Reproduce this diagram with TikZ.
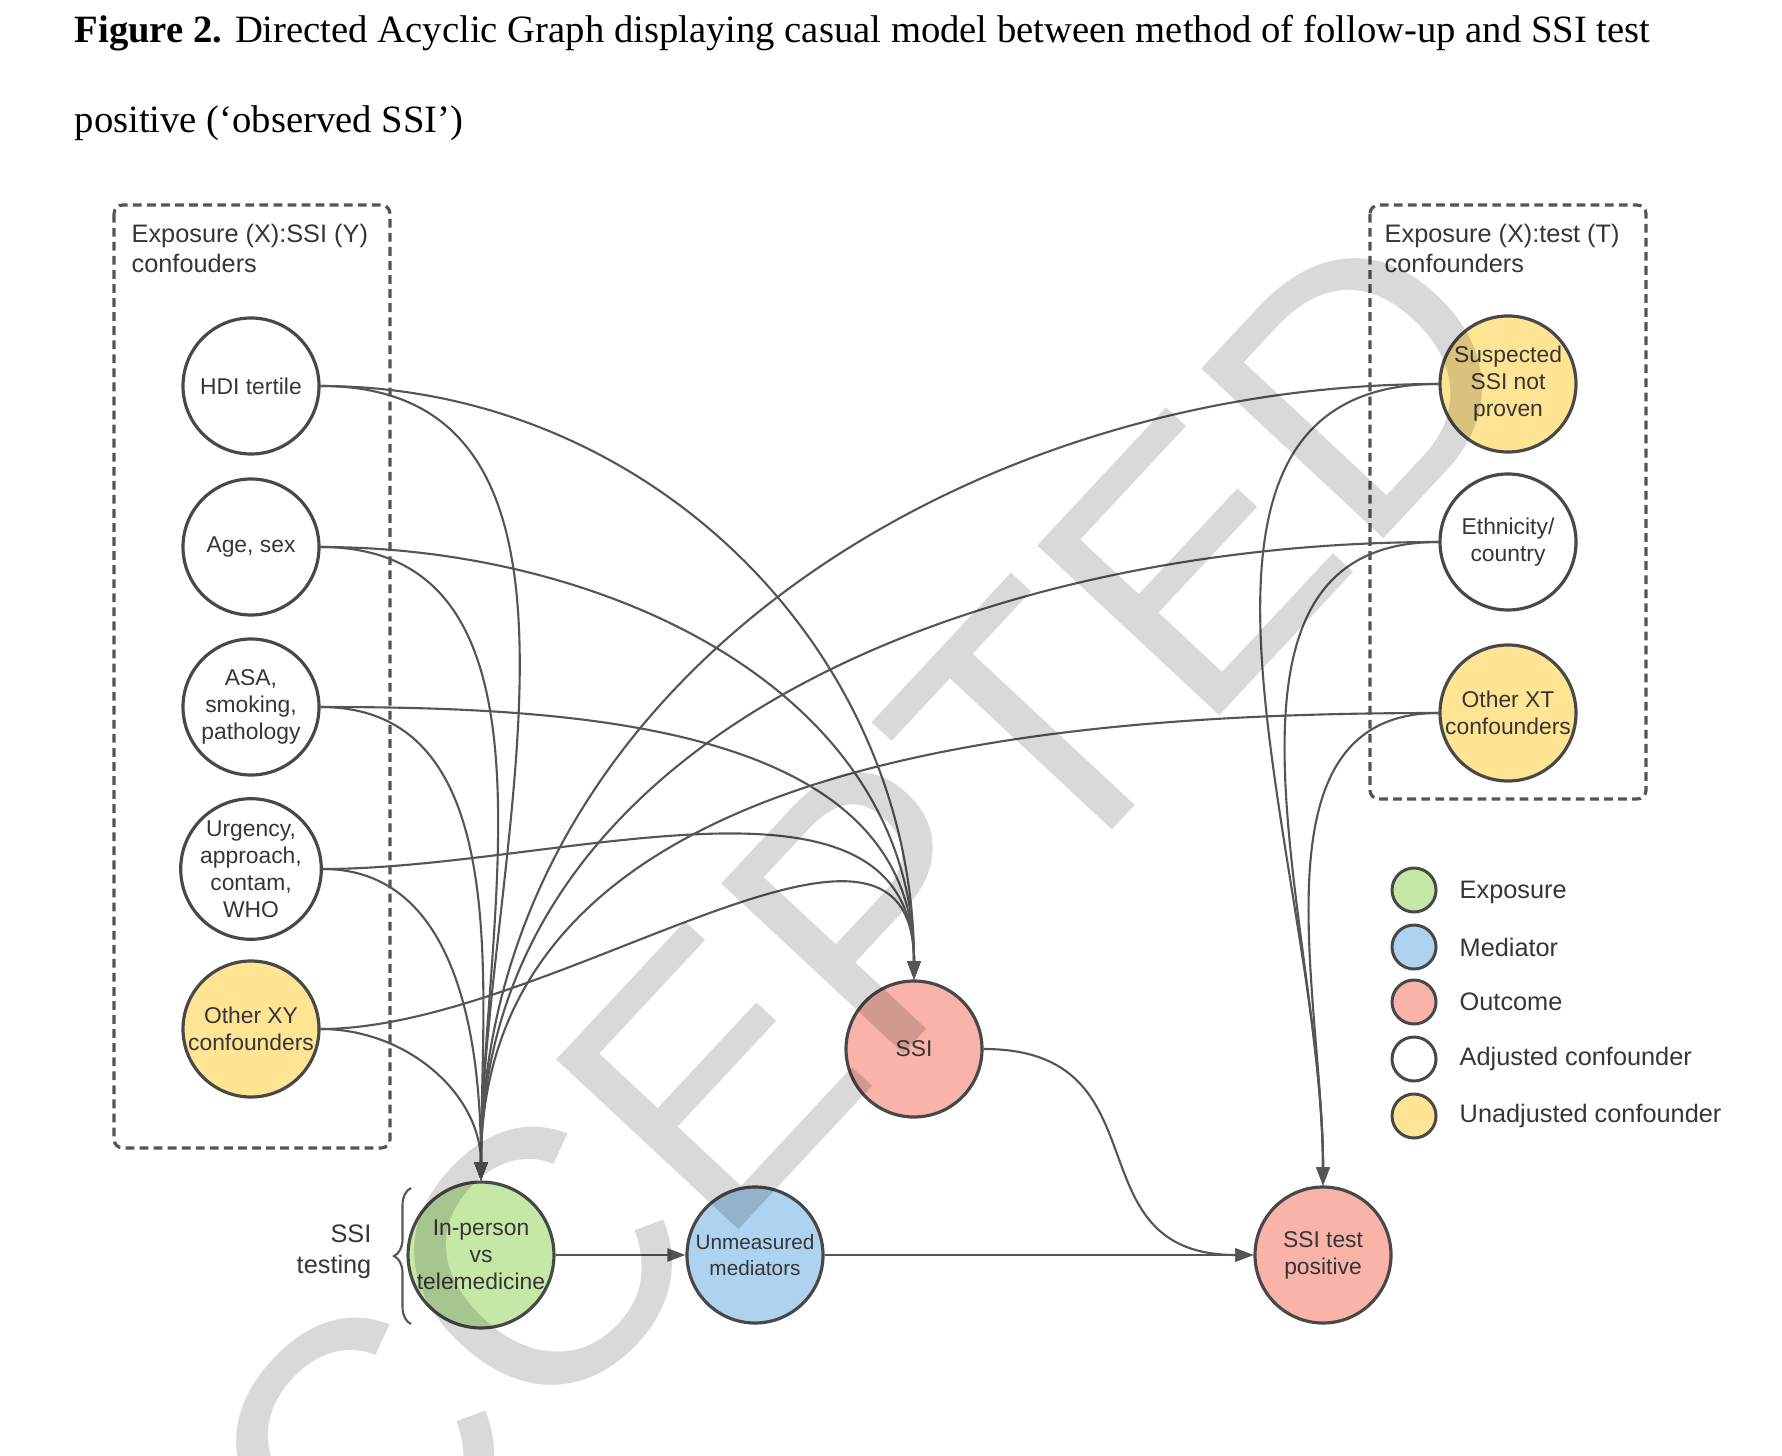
\documentclass[tikz,border=0pt]{standalone}
\usepackage{fontspec}
\setmainfont{Liberation Serif}
\newfontfamily\lucid{Liberation Sans}
\usepackage{xcolor}
\usepackage{tikz}
\usetikzlibrary{positioning,arrows.meta,decorations.pathreplacing}
\definecolor{edge}{HTML}{555555}
\definecolor{rim}{HTML}{484848}
\definecolor{txt}{HTML}{363636}
\definecolor{expo}{HTML}{C5E8A7}
\definecolor{medi}{HTML}{ADD3F0}
\definecolor{outc}{HTML}{F9B3A9}
\definecolor{unadj}{HTML}{FFE494}

\begin{document}
\begin{tikzpicture}[
  >={Triangle[length=1.8mm,width=1.3mm]},
  var/.style={circle,draw=rim,line width=0.9pt,minimum size=1.36cm,inner sep=0pt,
              align=center,text=txt,font=\lucid\fontsize{6.5}{7.7}\selectfont},
  adj/.style={var,fill=white},
  unadj/.style={var,fill=unadj},
  expo/.style={var,fill=expo},
  medi/.style={var,fill=medi},
  outc/.style={var,fill=outc},
  edge/.style={draw=edge,line width=0.6pt,->},
  grp/.style={draw=edge,line width=0.9pt,dash pattern=on 2.5pt off 1.5pt,rounded corners=2.5pt},
  gl/.style={text=txt,font=\lucid\fontsize{7.2}{8.7}\selectfont,align=left,inner sep=0pt},
  key/.style={circle,draw=rim,line width=0.85pt,minimum size=0.44cm,inner sep=0pt},
  kl/.style={text=txt,font=\lucid\fontsize{7.2}{8.7}\selectfont,anchor=west,inner sep=0pt}
]
\useasboundingbox[fill=white] (0,0) rectangle (17.82,-14.56);
\def\LX{2.51}
\def\RX{15.08}
% caption
\node[anchor=base west,inner sep=0pt,font=\fontsize{11}{13}\selectfont] (cap1) at (0.74,-0.43)
  {\textbf{Figure 2.} Directed Acyclic Graph displaying casual model between method of follow-up and SSI test};
\node[anchor=base west,inner sep=0pt,font=\fontsize{11}{13}\selectfont] (cap2) at (0.74,-1.33)
  {positive (‘observed SSI’)};
% confounder groups
\draw[grp] (1.14,-2.05) rectangle (3.90,-11.48);
\node[gl,anchor=north west] (gxy) at (1.31,-2.23) {Exposure (X):SSI (Y)\\confouders};
\draw[grp] (13.70,-2.05) rectangle (16.46,-7.99);
\node[gl,anchor=north west] (gxt) at (13.84,-2.23) {Exposure (X):test (T)\\confounders};
% X:Y confounders
\node[adj]   (hdi) at (\LX,-3.86)  {HDI tertile};
\node[adj]   (age) at (\LX,-5.47)  {Age, sex};
\node[adj]   (asa) at (\LX,-7.07)  {ASA,\\smoking,\\pathology};
\node[adj]   (urg) at (\LX,-8.69)  {Urgency,\\approach,\\contam,\\WHO};
\node[unadj] (oxy) at (\LX,-10.29) {Other XY\\confounders};
% X:T confounders
\node[unadj] (sus) at (\RX,-3.84) {Suspected\\SSI not\\proven};
\node[adj]   (eth) at (\RX,-5.42) {Ethnicity/\\country};
\node[unadj] (oxt) at (\RX,-7.13) {Other XT\\confounders};
% main path
\node[outc] (ssi)  at (9.14,-10.49) {SSI};
\node[expo] (inp)  at (4.81,-12.55) {In-person\\vs\\telemedicine};
\node[medi,font=\lucid\fontsize{5.9}{7.4}\selectfont] (med) at (7.55,-12.55) {Unmeasured\\mediators};
\node[outc] (tpos) at (13.23,-12.55) {SSI test\\positive};
% SSI testing brace
\draw[draw=edge,line width=0.6pt,decorate,decoration={brace,amplitude=0.17cm}]
  (4.11,-13.24) -- (4.11,-11.88);
\node[gl,align=right,anchor=east] (tst) at (3.72,-12.52) {SSI\\testing};
% arrows
\foreach \n in {hdi,age,asa,urg,oxy} {
  \draw[edge] (\n.east) to[out=0,in=90] (inp.north);
  \draw[edge] (\n.east) to[out=0,in=90] (ssi.north);
}
\foreach \n in {sus,eth,oxt} {
  \draw[edge] (\n.west) to[out=180,in=90] (inp.north);
  \draw[edge] (\n.west) to[out=180,in=90] (tpos.north);
}
\draw[edge] (inp) -- (med);
\draw[edge] (med) -- (tpos);
\draw[edge] (ssi.east) to[out=0,in=180,looseness=1.4] (tpos.west);
% legend
\node[key,fill=expo]  (k1) at (14.14,-8.90)  {};
\node[key,fill=medi]  (k2) at (14.14,-9.47)  {};
\node[key,fill=outc]  (k3) at (14.14,-10.02) {};
\node[key,fill=white] (k4) at (14.14,-10.59) {};
\node[key,fill=unadj] (k5) at (14.14,-11.16) {};
\node[kl] at (14.59,-8.92)  {Exposure};
\node[kl] at (14.59,-9.47)  {Mediator};
\node[kl] at (14.59,-10.02) {Outcome};
\node[kl] at (14.59,-10.59) {Adjusted confounder};
\node[kl] at (14.59,-11.16) {Unadjusted confounder};
% watermark
\begin{scope}
\clip (0,0) rectangle (17.82,-14.56);
\node[rotate=47,anchor=base,inner sep=0pt,text=black,text opacity=0.15,
      font=\lucid\fontsize{103}{103}\selectfont] (wm) at (8.70,-10.90) {ACCEPTED};
\end{scope}
\end{tikzpicture}
\end{document}
